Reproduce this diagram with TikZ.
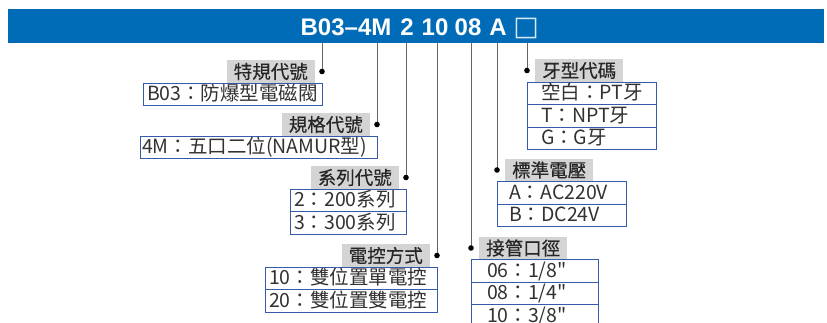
\documentclass[tikz,border=0pt]{standalone}
\usepackage{fontspec}
\setmainfont{Liberation Sans}
\newfontfamily\cjkfont{Noto Sans CJK TC}
\newfontfamily\cjkheavy{Noto Sans CJK TC}[FakeBold=0.45]
\newfontfamily\symbfont{DejaVu Sans}
\usetikzlibrary{positioning}
\definecolor{barblue}{RGB}{0,108,183}
\definecolor{boxblue}{RGB}{52,92,170}
\definecolor{taggray}{RGB}{212,212,212}
\definecolor{leadgray}{RGB}{100,100,100}
\definecolor{ink}{RGB}{50,50,50}
\begin{document}
\begin{tikzpicture}
[x=1pt,y=1pt,
 codepart/.style={text=white,font=\fontsize{24}{24}\selectfont\bfseries,anchor=base,inner sep=0pt},
 tagdecorate/.style={fill=taggray,minimum width=88pt,minimum height=23pt,inner sep=0pt,
   text=black!85,font=\cjkheavy\fontsize{18.5}{19}\selectfont},
 optdecorate/.style={draw=boxblue,line width=1pt,outer sep=0pt,inner ysep=0pt,
   align=left,text=ink,text height=15.5pt,text depth=3pt,minimum height=22.5pt,
   font=\cjkfont\fontsize{19.5}{20}\selectfont},
 leaddecorate/.style={-,draw=leadgray,line width=0.9pt}]
\useasboundingbox (0,0) rectangle (827,-322);
\clip (0,0) rectangle (827,-322);
%% code bar
\node (bar) at (416,-26) [fill=barblue,minimum width=816pt,minimum height=34pt,inner sep=0pt] {};
\foreach \partname/\x/\txt in {cBM/346/B03–4M, cSer/407/2, cCtl/435/10, cPort/468/08, cVolt/498/A} {
  \node (\partname) at (\x,-35) [codepart] {\txt};
}
\node (cThr) at (526,-35) [codepart,text=white!85!barblue,font=\symbfont\fontsize{27}{27}\selectfont] {□};
%% tops of the leads, under each part of the code
\foreach \topname/\x in {cB/322, cM/377, cSer/406, cCtl/437, cPort/471, cVolt/497, cThr/527} {
  \coordinate (\topname-top) at (\x,-43);
}
%% tags on the left
\foreach \tagname/\part/\y/\txt in {tSpec/cB/-71.5/特規代號, tSize/cM/-124.5/規格代號,
    tSer/cSer/-177.5/系列代號, tCtl/cCtl/-255.5/電控方式} {
  \coordinate (\tagname-dot) at (\part-top |- 0,\y);
  \node (\tagname) [tagdecorate,left=7pt of \tagname-dot] {\txt};
  \draw[leaddecorate] (\part-top) -- (\tagname-dot);
  \fill (\tagname-dot) circle (2.8pt);
}
%% tags on the right
\foreach \tagname/\part/\y/\txt in {tPort/cPort/-248/接管口徑, tVolt/cVolt/-170/標準電壓,
    tThr/cThr/-70.5/牙型代碼} {
  \coordinate (\tagname-dot) at (\part-top |- 0,\y);
  \node (\tagname) [tagdecorate,right=8pt of \tagname-dot] {\txt};
  \draw[leaddecorate] (\part-top) -- (\tagname-dot);
  \fill (\tagname-dot) circle (2.8pt);
}
%% option boxes
\node (oSpec) [optdecorate,anchor=north east,text width=171pt,inner xsep=4pt]
  at (tSpec-dot |- tSpec.south) {B03：防爆型電磁閥};
\node (oSize) [optdecorate,anchor=north east,text width=233pt,inner xsep=2pt]
  at (tSize-dot |- tSize.south) {4M：五口二位(NAMUR型)};
\node (oSer1) [optdecorate,anchor=north east,text width=108pt,inner xsep=4pt]
  at (tSer-dot |- tSer.south) {2：200系列};
\node (oSer2) [optdecorate,below=0pt of oSer1,text width=108pt,inner xsep=4pt] {3：300系列};
\node (oCtl1) [optdecorate,anchor=north east,text width=164pt,inner xsep=4pt]
  at (tCtl-dot |- tCtl.south) {10：雙位置單電控};
\node (oCtl2) [optdecorate,below=0pt of oCtl1,text width=164pt,inner xsep=4pt] {20：雙位置雙電控};
\node (oPort1) [optdecorate,anchor=north west,text width=95pt,inner xsep=16pt]
  at (tPort-dot |- tPort.south) {06：1/8"};
\node (oPort2) [optdecorate,below=0pt of oPort1,text width=95pt,inner xsep=16pt] {08：1/4"};
\node (oPort3) [optdecorate,below=0pt of oPort2,text width=95pt,inner xsep=16pt] {10：3/8"};
\node (oVolt1) [optdecorate,anchor=north west,text width=105pt,inner xsep=12pt]
  at (tVolt-dot |- tVolt.south) {A：AC220V};
\node (oVolt2) [optdecorate,below=0pt of oVolt1,text width=105pt,inner xsep=12pt] {B：DC24V};
\node (oThr1) [optdecorate,anchor=north west,text width=101pt,inner xsep=14pt]
  at (tThr-dot |- tThr.south) {空白：PT牙};
\node (oThr2) [optdecorate,below=0pt of oThr1,text width=101pt,inner xsep=14pt] {T：NPT牙};
\node (oThr3) [optdecorate,below=0pt of oThr2,text width=101pt,inner xsep=14pt] {G：G牙};
\end{tikzpicture}
\end{document}
